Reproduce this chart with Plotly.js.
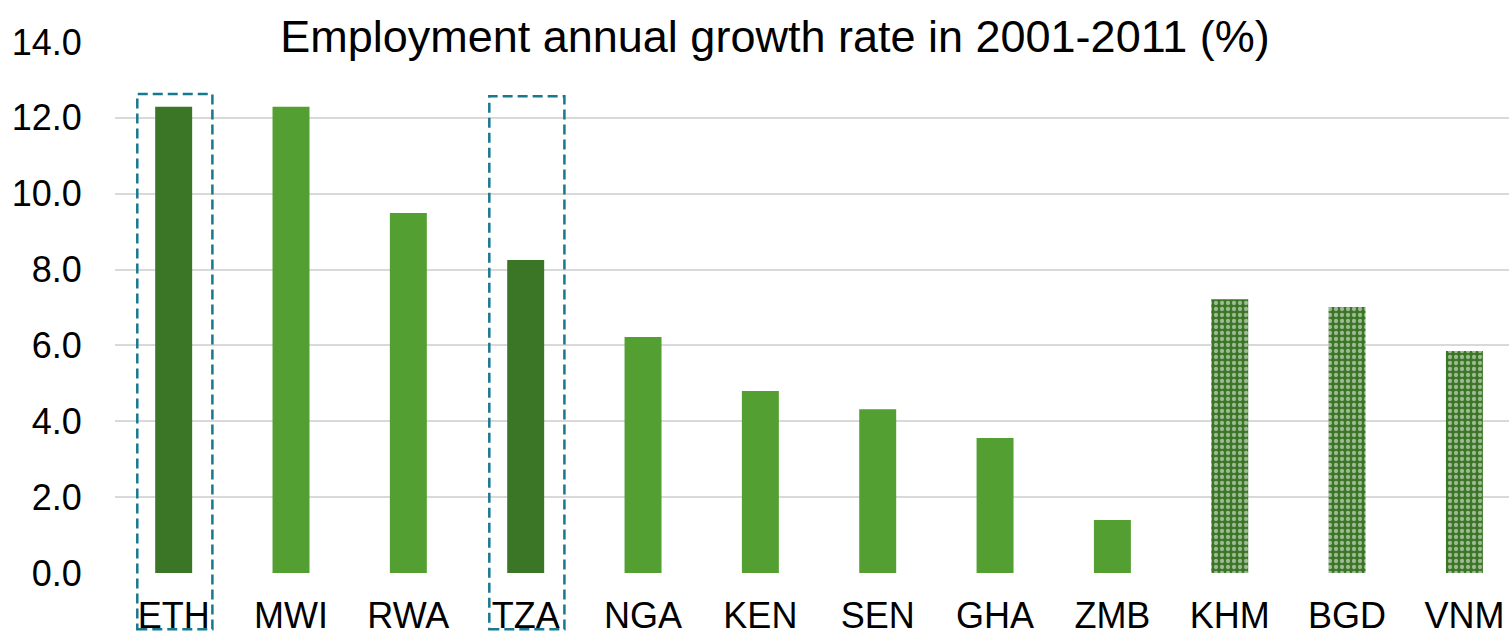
<!DOCTYPE html>
<html>
<head>
<meta charset="utf-8">
<script src="https://cdn.plot.ly/plotly-3.0.1.min.js"></script>
<style>html,body{margin:0;padding:0;background:#fff;}#chart{width:1509px;height:632px;}</style>
</head>
<body>
<div id="chart"></div>
<script>
const categories = ["ETH","MWI","RWA","TZA","NGA","KEN","SEN","GHA","ZMB","KHM","BGD","VNM"];
const values = [12.29, 12.29, 9.49, 8.25, 6.22, 4.80, 4.32, 3.56, 1.40, 7.22, 7.01, 5.85];
const barKind = ["dark","light","light","dark","light","light","light","light","light","pattern","pattern","pattern"];
const yTicks = [0,2,4,6,8,10,12,14];
const yTickLabels = ["0.0","2.0","4.0","6.0","8.0","10.0","12.0","14.0"];
const highlighted = ["ETH","TZA"];
const titleText = "Employment annual growth rate in 2001-2011 (%)";

const DARK = "#3B7526", LIGHT = "#539F31";
const colors = barKind.map(k => k === "light" ? LIGHT : DARK);
const shapesPat = barKind.map(k => k === "pattern" ? "." : "");

const trace = {
  type: "bar",
  x: categories,
  y: values,
  width: 0.315,
  marker: {
    color: colors,
    line: {width: 0},
    pattern: {
      shape: shapesPat,
      fillmode: "overlay",
      fgcolor: "#ffffff",
      size: 6,
      solidity: 0.4
    }
  },
  hoverinfo: "x+y"
};

const shapes = highlighted.map(c => {
  const i = categories.indexOf(c);
  const top = c === "ETH" ? 0.902 : 0.898;
  return {
    type: "rect", xref: "x", yref: "paper",
    x0: i - 0.31, x1: i + 0.33, y0: -0.106, y1: top,
    line: {color: "#17788F", width: 2.5, dash: "10px,5px"},
    fillcolor: "rgba(0,0,0,0)", layer: "above"
  };
});

const layout = {
  width: 1509, height: 632,
  margin: {l: 115, r: 0, t: 42, b: 59},
  paper_bgcolor: "#fff", plot_bgcolor: "#fff",
  showlegend: false,
  font: {family: "Liberation Sans, Arial, sans-serif", color: "#000"},
  title: {
    text: titleText,
    font: {size: 45, color: "#000"},
    xref: "container", x: 775/1509, xanchor: "center",
    yref: "container", y: 1 - 36/632, yanchor: "middle"
  },
  xaxis: {
    type: "category",
    range: [-0.5, 11.38],
    showgrid: false, zeroline: false, showline: false,
    ticks: "outside", ticklen: 11, tickcolor: "rgba(0,0,0,0)",
    tickfont: {size: 36, color: "#000"}
  },
  yaxis: {
    range: [0, 14],
    tickvals: yTicks, ticktext: yTickLabels,
    showgrid: true, gridcolor: "#D9D9D9", gridwidth: 2,
    zeroline: false, showline: false,
    ticks: "outside", ticklen: 25, tickcolor: "rgba(0,0,0,0)",
    tickfont: {size: 36, color: "#000"}
  },
  shapes: shapes,
  bargap: 0.68
};

Plotly.newPlot("chart", [trace], layout, {displayModeBar: false, staticPlot: true});
</script>
</body>
</html>
